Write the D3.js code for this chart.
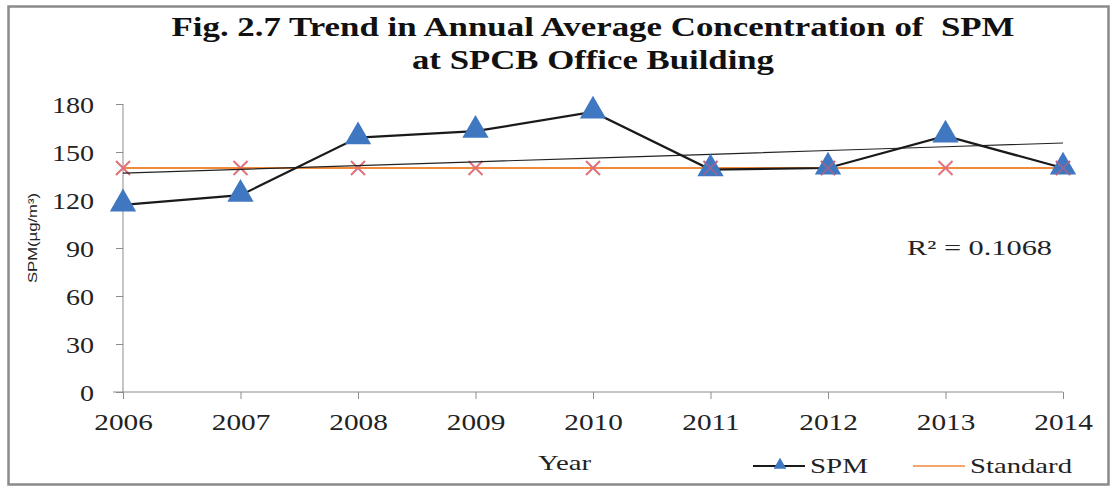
<!DOCTYPE html>
<html>
<head>
<meta charset="utf-8">
<script src="https://cdn.jsdelivr.net/npm/d3@7"></script>
<style>
  html, body { margin: 0; padding: 0; background: #fff; }
  svg { display: block; }
  text { white-space: pre; }
</style>
</head>
<body>
<svg id="chart" width="1111" height="486"></svg>
<script>
// Annual average SPM at the SPCB office building, with the standard limit
const years = ["2006", "2007", "2008", "2009", "2010", "2011", "2012", "2013", "2014"];
const spm = [117, 123, 159, 163, 175, 139, 140, 160, 140];
const standard = [140, 140, 140, 140, 140, 140, 140, 140, 140];
const yTicks = [0, 30, 60, 90, 120, 150, 180];
const titleLines = ["Fig. 2.7 Trend in Annual Average Concentration of  SPM", "at SPCB Office Building"];
const r2Label = "R\u00B2 = 0.1068";

const svg = d3.select("#chart");
const serif = "'Liberation Serif', 'Times New Roman', serif";

// widen a text run horizontally by factor k (the figure uses a broad serif)
function stretch(sel, k) {
  sel.each(function () {
    const len = this.getComputedTextLength();
    d3.select(this).attr("textLength", len * k).attr("lengthAdjust", "spacingAndGlyphs");
  });
}

// outer frame
svg.append("rect")
  .attr("x", 8.5).attr("y", 6.5).attr("width", 1100).attr("height", 478)
  .attr("fill", "#fff").attr("stroke", "#8a8a8a").attr("stroke-width", 2.5);

// title
const titleLen = [843, 362];
svg.append("g").selectAll("text").data(titleLines).join("text")
  .attr("x", 593).attr("y", (d, i) => 36 + i * 33)
  .attr("text-anchor", "middle")
  .attr("font-family", serif).attr("font-weight", "bold").attr("font-size", 27)
  .attr("fill", "#111")
  .attr("textLength", (d, i) => titleLen[i]).attr("lengthAdjust", "spacingAndGlyphs")
  .text(d => d);

const x = d3.scalePoint().domain(years).range([123, 1063]);
const y = d3.scaleLinear().domain([0, 180]).range([392, 104]);

// y axis
const yAxis = d3.axisLeft(y).tickValues(yTicks).tickSize(7).tickPadding(22);
const gy = svg.append("g").attr("transform", `translate(${x(years[0])},0)`).call(yAxis);
gy.select(".domain").attr("stroke", "#8c8c8c").attr("d", `M0,${y(180)}V${y(0)}`);
gy.selectAll(".tick line").attr("stroke", "#8c8c8c");
gy.selectAll(".tick text").attr("font-family", serif).attr("font-size", 24).attr("fill", "#222")
  .attr("dy", "0.34em");
stretch(gy.selectAll(".tick text"), 1.17);

// x axis
const xAxis = d3.axisBottom(x).tickSize(7).tickPadding(16);
const gx = svg.append("g").attr("transform", `translate(0,${y(0)})`).call(xAxis);
gx.select(".domain").attr("stroke", "#8c8c8c").attr("d", `M113,0H${x(years[years.length - 1])}`);
gx.selectAll(".tick line").attr("stroke", "#8c8c8c");
gx.selectAll(".tick text").attr("font-family", serif).attr("font-size", 24).attr("fill", "#222")
  .attr("dy", "0.62em");
stretch(gx.selectAll(".tick text"), 1.22);

// axis titles
svg.append("text")
  .attr("transform", `translate(37,238) rotate(-90)`)
  .attr("text-anchor", "middle")
  .attr("font-family", "'Liberation Sans', Arial, sans-serif").attr("font-size", 13).attr("fill", "#222")
  .attr("textLength", 90).attr("lengthAdjust", "spacingAndGlyphs")
  .text("SPM(\u00B5g/m\u00B3)");
svg.append("text")
  .attr("x", 538).attr("y", 470)
  .attr("font-family", serif).attr("font-size", 21).attr("fill", "#222")
  .attr("textLength", 53).attr("lengthAdjust", "spacingAndGlyphs")
  .text("Year");

// standard series: line with cross markers
const line = d3.line().x((d, i) => x(years[i])).y(d => y(d));
const cross = 7;
const crossPath = (d, i) => {
  const cx = x(years[i]), cy = y(d);
  return `M${cx - cross},${cy - cross}L${cx + cross},${cy + cross}M${cx - cross},${cy + cross}L${cx + cross},${cy - cross}`;
};
svg.append("path").datum(standard)
  .attr("d", line).attr("fill", "none").attr("stroke", "#f08a3c").attr("stroke-width", 2);
svg.append("g").selectAll("path").data(standard).join("path")
  .attr("d", crossPath)
  .attr("stroke", "#e0707a").attr("stroke-width", 2).attr("fill", "none");

// linear trend of SPM (least squares over year index)
const xs = d3.range(spm.length);
const mx = d3.mean(xs), my = d3.mean(spm);
const sxy = d3.sum(xs, i => (i - mx) * (spm[i] - my));
const sxx = d3.sum(xs, i => (i - mx) * (i - mx));
const slope = sxy / sxx, icpt = my - slope * mx;
const trend = xs.map(i => icpt + slope * i);
svg.append("path").datum(trend)
  .attr("d", line).attr("fill", "none").attr("stroke", "#222").attr("stroke-width", 1.2);

// SPM series
svg.append("path").datum(spm)
  .attr("d", line).attr("fill", "none").attr("stroke", "#1a1a1a").attr("stroke-width", 2.2);
const tri = d3.symbol().type(d3.symbolTriangle).size(300);
svg.append("g").selectAll("path").data(spm).join("path")
  .attr("d", tri)
  .attr("transform", (d, i) => `translate(${x(years[i])},${y(d) - 1})`)
  .attr("fill", "#3f78c0");

// crosses show through the triangles where values coincide
svg.append("g").selectAll("path").data(standard).join("path")
  .attr("d", (d, i) => Math.abs(spm[i] - d) > 2 ? "" : crossPath(d, i))
  .attr("stroke", "#b8607f").attr("stroke-width", 1.6).attr("fill", "none").attr("opacity", 0.8);

// R squared
svg.append("text")
  .attr("x", 907).attr("y", 255)
  .attr("font-family", serif).attr("font-size", 21).attr("fill", "#222")
  .attr("textLength", 145).attr("lengthAdjust", "spacingAndGlyphs")
  .text(r2Label);

// legend
const lg = svg.append("g");
lg.append("line").attr("x1", 753).attr("x2", 805).attr("y1", 466).attr("y2", 466)
  .attr("stroke", "#1a1a1a").attr("stroke-width", 2.2);
lg.append("path").attr("d", d3.symbol().type(d3.symbolTriangle).size(70))
  .attr("transform", "translate(780,465)").attr("fill", "#3f78c0");
lg.append("text").attr("x", 810).attr("y", 473)
  .attr("font-family", serif).attr("font-size", 21).attr("fill", "#222")
  .attr("textLength", 58).attr("lengthAdjust", "spacingAndGlyphs").text("SPM");
lg.append("line").attr("x1", 913).attr("x2", 965).attr("y1", 466).attr("y2", 466)
  .attr("stroke", "#f08a3c").attr("stroke-width", 1.5);
lg.append("text").attr("x", 970).attr("y", 473)
  .attr("font-family", serif).attr("font-size", 21).attr("fill", "#222")
  .attr("textLength", 102).attr("lengthAdjust", "spacingAndGlyphs").text("Standard");
</script>
</body>
</html>
